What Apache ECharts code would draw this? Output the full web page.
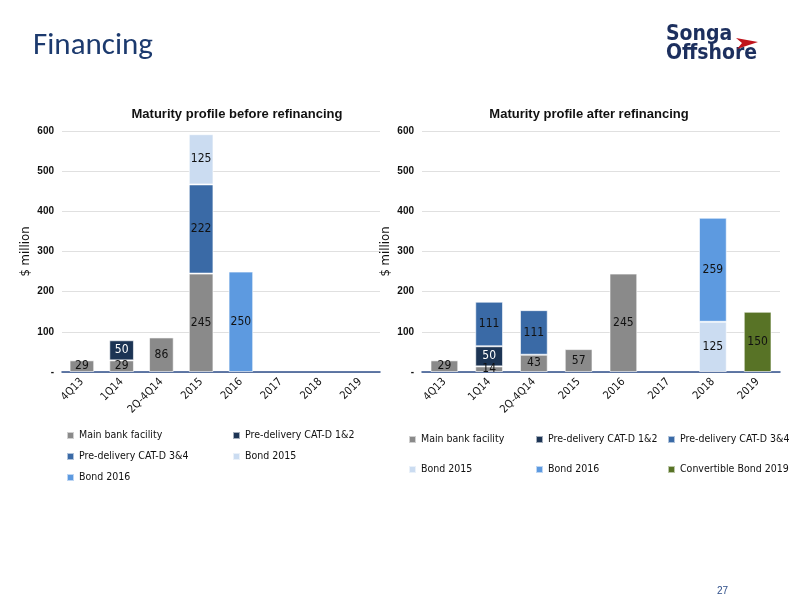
<!DOCTYPE html>
<html><head><meta charset="utf-8">
<script src="https://cdn.jsdelivr.net/npm/echarts@6/dist/echarts.min.js"></script>
<style>body{margin:0;background:#fff}#c{width:800px;height:600px}</style>
</head><body><div id="c"></div>
<script>
const categories = ['4Q13','1Q14','2Q-4Q14','2015','2016','2017','2018','2019'];
// before refinancing
const beforeMain = [29,29,86,245,null,null,null,null];
const beforeCat12 = [null,50,null,null,null,null,null,null];
const beforeCat34 = [null,null,null,222,null,null,null,null];
const beforeBond15 = [null,null,null,125,null,null,null,null];
const beforeBond16 = [null,null,null,null,250,null,null,null];
// after refinancing
const afterMain = [29,14,43,57,245,null,null,null];
const afterCat12 = [null,50,null,null,null,null,null,null];
const afterCat34 = [null,111,111,null,null,null,null,null];
const afterBond15 = [null,null,null,null,null,null,125,null];
const afterBond16 = [null,null,null,null,null,null,259,null];
const afterConv19 = [null,null,null,null,null,null,null,150];
const yTicks = [0,100,200,300,400,500,600];

const C = {main:'#8a8a8a',c12:'#1c3454',c34:'#3a6aa6',b15:'#cbdcf1',b16:'#5d9ae0',cv:'#587326'};
const narrow = '"Liberation Sans Narrow", "DejaVu Sans Condensed", Arial, sans-serif';
function ser(name,data,color,gi,labelColor){
  return {name,type:'bar',stack:'s'+gi,xAxisIndex:gi,yAxisIndex:gi,data,barWidth:'62%',
    itemStyle:{color,borderColor:'rgba(255,255,255,0.6)',borderWidth:1},
    label:{show:true,position:'inside',color:labelColor||'#111',fontSize:12,fontFamily:narrow}};
}
function xa(gi){return {type:'category',gridIndex:gi,data:categories,
  axisLine:{lineStyle:{color:'#2f4f8a',width:1.5}},axisTick:{show:false},
  axisLabel:{rotate:45,color:'#111',fontSize:11,margin:8,interval:0,fontFamily:narrow}};}
function ya(gi){return {type:'value',gridIndex:gi,min:0,max:600,interval:100,
  name:'$ million',nameLocation:'middle',nameGap:30,nameTextStyle:{fontSize:13,color:'#111',fontFamily:narrow},
  axisLine:{show:false},axisTick:{show:false},splitLine:{lineStyle:{color:'#e0e0e0'}},
  axisLabel:{color:'#111',fontSize:10,fontWeight:'bold',formatter:v=>v===0?'-':v}};}
function lg(name,left,top){return {data:[name],left,top,itemWidth:7,itemHeight:7,icon:'rect',itemGap:4,
  textStyle:{fontSize:10.5,color:'#111',fontFamily:narrow},padding:0};}
const chart = echarts.init(document.getElementById('c'));
chart.setOption({
  animation:false,
  textStyle:{fontFamily:'"Liberation Sans", Arial, sans-serif'},
  title:[
    {text:'Financing',left:28,top:26,textStyle:{fontSize:31,fontWeight:'normal',color:'#1c3a6e',fontFamily:'Carlito, "Open Sans", sans-serif'}},
    {text:'Maturity profile before refinancing',left:232,top:103,textAlign:'center',textStyle:{fontSize:13,fontWeight:'bold',color:'#111'}},
    {text:'Maturity profile after refinancing',left:584,top:103,textAlign:'center',textStyle:{fontSize:13,fontWeight:'bold',color:'#111'}},
    {text:'27',left:712,top:581,textStyle:{fontSize:10,color:'#2f4f8a',fontWeight:'normal'}}
  ],
  graphic:[
    {type:'text',left:666,top:24,style:{text:'Songa',fontSize:21,fontWeight:'bold',fill:'#1c2f5e',fontFamily:narrow}},
    {type:'text',left:666,top:43,style:{text:'Offshore',fontSize:21,fontWeight:'bold',fill:'#1c2f5e',fontFamily:narrow}},
    {type:'polygon',shape:{points:[[736,38],[758,42],[737,49],[742,43]]},style:{fill:'#c0141c'}}
  ],
  grid:[{left:62,right:420,top:131,bottom:228},{left:422,right:20,top:131,bottom:228}],
  xAxis:[xa(0),xa(1)],
  yAxis:[ya(0),ya(1)],
  legend:[
    lg('Main bank facility',66,430),lg('Pre-delivery CAT-D 1&2 ',232,430),
    lg('Pre-delivery CAT-D 3&4 ',66,451),lg('Bond 2015 ',232,451),lg('Bond 2016 ',66,472),
    lg('Main bank facility ',408,434),lg('Pre-delivery CAT-D 1&2',535,434),lg('Pre-delivery CAT-D 3&4',667,434),
    lg('Bond 2015',408,464),lg('Bond 2016',535,464),lg('Convertible Bond 2019',667,464)
  ],
  series:[
    ser('Main bank facility',beforeMain,C.main,0),
    ser('Pre-delivery CAT-D 1&2 ',beforeCat12,C.c12,0,'#fff'),
    ser('Pre-delivery CAT-D 3&4 ',beforeCat34,C.c34,0),
    ser('Bond 2015 ',beforeBond15,C.b15,0),
    ser('Bond 2016 ',beforeBond16,C.b16,0),
    ser('Main bank facility ',afterMain,C.main,1),
    ser('Pre-delivery CAT-D 1&2',afterCat12,C.c12,1,'#fff'),
    ser('Pre-delivery CAT-D 3&4',afterCat34,C.c34,1),
    ser('Bond 2015',afterBond15,C.b15,1),
    ser('Bond 2016',afterBond16,C.b16,1),
    ser('Convertible Bond 2019',afterConv19,C.cv,1)
  ]
});
</script></body></html>
